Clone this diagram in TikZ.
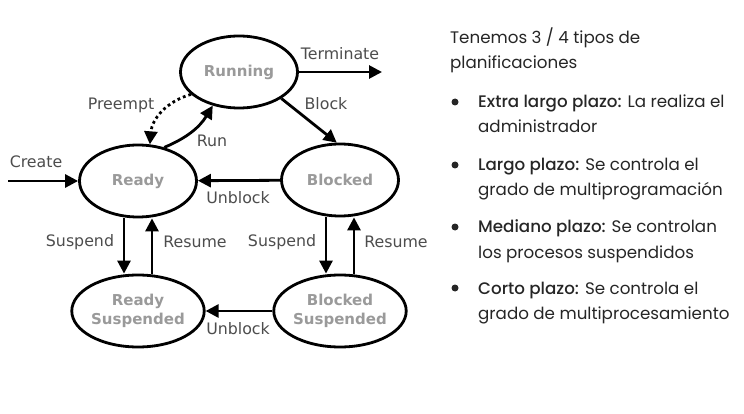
\documentclass[tikz,border=0pt]{standalone}
\usepackage{fontspec}
\setmainfont{DejaVu Sans}
\newfontfamily\planfont{Poppins}[BoldFont={Poppins Medium}]
\usepackage{xcolor}
\usetikzlibrary{arrows.meta,shapes.geometric}

\definecolor{stategray}{HTML}{9A9A9A}
\definecolor{labelgray}{HTML}{4D4D4D}
\definecolor{textdark}{HTML}{262626}

\begin{document}
\begin{tikzpicture}[x=1pt,y=-1pt,
  state/.style={ellipse,draw,line width=2.8pt,minimum width=117pt,minimum height=72pt,inner sep=0pt,font=\fontsize{15}{19}\selectfont\bfseries,text=stategray,align=center},
  lbl/.style={font=\fontsize{15.8}{18}\selectfont,text=labelgray,inner sep=0pt},
  arr/.style={line width=2.8pt,-{Triangle[length=13pt,width=13pt]}},
  plan/.style={font=\planfont\fontsize{16.7}{25}\selectfont,text=textdark,align=left,anchor=base west,inner sep=0pt}]
  \fill[white] (0,0) rectangle (744,414);
  \useasboundingbox (0,0) rectangle (744,414);

  % states
  \node[state] (running) at (239,72) {Running};
  \node[state] (ready) at (138,181) {Ready};
  \node[state] (blocked) at (340,180) {Blocked};
  \node[state] (rsusp) at (138,311) {Ready\\Suspended};
  \node[state] (bsusp) at (340,311) {Blocked\\Suspended};
  \coordinate (create) at (8,181);
  \coordinate (term) at (382,72);

  % transitions
  \draw[arr] (create) -- (ready);
  \draw[arr] (running) -- (term);
  \draw[arr] (running.-32) -- (blocked.95);
  \draw[arr] (ready.52) to[bend right=18] (running.-128);
  \draw[arr,dash pattern=on 2.8pt off 3pt] (running.-155) to[bend right=35] (ready.72);
  \draw[arr] (blocked) -- (ready);
  \draw[arr] ([xshift=-14pt]ready.south) -- ([xshift=-14pt]rsusp.north);
  \draw[arr] ([xshift=14pt]rsusp.north) -- ([xshift=14pt]ready.south);
  \draw[arr] ([xshift=-14pt]blocked.south) -- ([xshift=-14pt]bsusp.north);
  \draw[arr] ([xshift=14pt]bsusp.north) -- ([xshift=14pt]blocked.south);
  \draw[arr] (bsusp) -- (rsusp);

  % labels
  \node[lbl] (lterm) at (340,54) {Terminate};
  \node[lbl] (lblock) at (326,104) {Block};
  \node[lbl] (lpre) at (121,105) {Preempt};
  \node[lbl] (lrun) at (212,141) {Run};
  \node[lbl] (lcreate) at (36,162) {Create};
  \node[lbl] (lunb1) at (238,198) {Unblock};
  \node[lbl] (lsus1) at (80,242) {Suspend};
  \node[lbl] (lres1) at (195,242) {Resume};
  \node[lbl] (lsus2) at (282,242) {Suspend};
  \node[lbl] (lres2) at (396,242) {Resume};
  \node[lbl] (lunb2) at (238,329) {Unblock};

  % planificaciones
  \node[plan] (intro) at (450,69) {Tenemos 3 / 4 tipos de\\planificaciones};
  \node[plan] (p1) at (478,133) {\textbf{Extra largo plazo:} La realiza el\\administrador};
  \node[plan] (p2) at (478,196) {\textbf{Largo plazo:} Se controla el\\grado de multiprogramación};
  \node[plan] (p3) at (478,258) {\textbf{Mediano plazo:} Se controlan\\los procesos suspendidos};
  \node[plan] (p4) at (478,319) {\textbf{Corto plazo:} Se controla el\\grado de multiprocesamiento};
  \foreach \y in {102,165,227,288}
    \fill[textdark] (455,\y) circle (3.5);
\end{tikzpicture}
\end{document}
